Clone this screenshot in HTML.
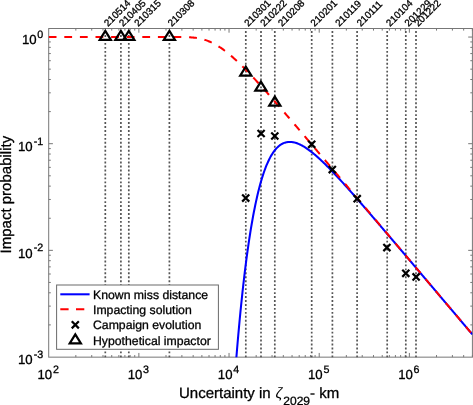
<!DOCTYPE html>
<html><head><meta charset="utf-8"><title>Impact probability</title>
<style>html,body{margin:0;padding:0;background:#fff}svg{display:block;will-change:transform}</style></head>
<body>
<svg width="473" height="405" viewBox="0 0 473 405" font-family="'Liberation Sans', Arial, Helvetica, sans-serif" fill="#000" text-rendering="geometricPrecision">
<style>text{stroke:#000;stroke-width:0.3px;stroke-linejoin:round}</style>
<rect width="473" height="405" fill="#fff"/>
<defs><clipPath id="c"><rect x="48.7" y="28.5" width="423.7" height="328.65"/></clipPath></defs>
<g stroke="#777" stroke-width="1" fill="none">
<rect x="48.7" y="28.5" width="423.7" height="328.65"/>
<path d="M75.84,357.15v-2.1M75.84,28.5v2.1M91.72,357.15v-2.1M91.72,28.5v2.1M102.99,357.15v-2.1M102.99,28.5v2.1M111.73,357.15v-2.1M111.73,28.5v2.1M118.86,357.15v-2.1M118.86,28.5v2.1M124.90,357.15v-2.1M124.90,28.5v2.1M130.13,357.15v-2.1M130.13,28.5v2.1M134.74,357.15v-2.1M134.74,28.5v2.1M138.87,357.15v-4.2M138.87,28.5v4.2M166.01,357.15v-2.1M166.01,28.5v2.1M181.89,357.15v-2.1M181.89,28.5v2.1M193.16,357.15v-2.1M193.16,28.5v2.1M201.89,357.15v-2.1M201.89,28.5v2.1M209.03,357.15v-2.1M209.03,28.5v2.1M215.07,357.15v-2.1M215.07,28.5v2.1M220.30,357.15v-2.1M220.30,28.5v2.1M224.91,357.15v-2.1M224.91,28.5v2.1M229.04,357.15v-4.2M229.04,28.5v4.2M256.18,357.15v-2.1M256.18,28.5v2.1M272.06,357.15v-2.1M272.06,28.5v2.1M283.32,357.15v-2.1M283.32,28.5v2.1M292.06,357.15v-2.1M292.06,28.5v2.1M299.20,357.15v-2.1M299.20,28.5v2.1M305.24,357.15v-2.1M305.24,28.5v2.1M310.47,357.15v-2.1M310.47,28.5v2.1M315.08,357.15v-2.1M315.08,28.5v2.1M319.21,357.15v-4.2M319.21,28.5v4.2M346.35,357.15v-2.1M346.35,28.5v2.1M362.23,357.15v-2.1M362.23,28.5v2.1M373.49,357.15v-2.1M373.49,28.5v2.1M382.23,357.15v-2.1M382.23,28.5v2.1M389.37,357.15v-2.1M389.37,28.5v2.1M395.41,357.15v-2.1M395.41,28.5v2.1M400.64,357.15v-2.1M400.64,28.5v2.1M405.25,357.15v-2.1M405.25,28.5v2.1M409.37,357.15v-4.2M409.37,28.5v4.2M436.52,357.15v-2.1M436.52,28.5v2.1M452.40,357.15v-2.1M452.40,28.5v2.1M463.66,357.15v-2.1M463.66,28.5v2.1M472.40,357.15v-2.1M472.40,28.5v2.1M48.7,324.90h2.1M472.4,324.90h-2.1M48.7,306.12h2.1M472.4,306.12h-2.1M48.7,292.79h2.1M472.4,292.79h-2.1M48.7,282.45h2.1M472.4,282.45h-2.1M48.7,274.01h2.1M472.4,274.01h-2.1M48.7,266.87h2.1M472.4,266.87h-2.1M48.7,260.69h2.1M472.4,260.69h-2.1M48.7,255.23h2.1M472.4,255.23h-2.1M48.7,250.35h4.2M472.4,250.35h-4.2M48.7,218.25h2.1M472.4,218.25h-2.1M48.7,199.47h2.1M472.4,199.47h-2.1M48.7,186.14h2.1M472.4,186.14h-2.1M48.7,175.80h2.1M472.4,175.80h-2.1M48.7,167.36h2.1M472.4,167.36h-2.1M48.7,160.22h2.1M472.4,160.22h-2.1M48.7,154.04h2.1M472.4,154.04h-2.1M48.7,148.58h2.1M472.4,148.58h-2.1M48.7,143.70h4.2M472.4,143.70h-4.2M48.7,111.60h2.1M472.4,111.60h-2.1M48.7,92.82h2.1M472.4,92.82h-2.1M48.7,79.49h2.1M472.4,79.49h-2.1M48.7,69.15h2.1M472.4,69.15h-2.1M48.7,60.71h2.1M472.4,60.71h-2.1M48.7,53.57h2.1M472.4,53.57h-2.1M48.7,47.39h2.1M472.4,47.39h-2.1M48.7,41.93h2.1M472.4,41.93h-2.1M48.7,37.05h4.2M472.4,37.05h-4.2"/>
</g>
<g stroke="#555" stroke-width="1.7" stroke-dasharray="1.9 2.055" stroke-dashoffset="1.355" fill="none">
<line x1="105.3" y1="28.5" x2="105.3" y2="357.15"/>
<line x1="120.9" y1="28.5" x2="120.9" y2="357.15"/>
<line x1="128.8" y1="28.5" x2="128.8" y2="357.15"/>
<line x1="169.4" y1="28.5" x2="169.4" y2="357.15"/>
<line x1="245.8" y1="28.5" x2="245.8" y2="357.15"/>
<line x1="261.0" y1="28.5" x2="261.0" y2="357.15"/>
<line x1="274.8" y1="28.5" x2="274.8" y2="357.15"/>
<line x1="311.7" y1="28.5" x2="311.7" y2="357.15"/>
<line x1="332.4" y1="28.5" x2="332.4" y2="357.15"/>
<line x1="357.1" y1="28.5" x2="357.1" y2="357.15"/>
<line x1="387.2" y1="28.5" x2="387.2" y2="357.15"/>
<line x1="405.8" y1="28.5" x2="405.8" y2="357.15"/>
<line x1="416.0" y1="28.5" x2="416.0" y2="357.15"/>
</g>
<g clip-path="url(#c)" fill="none" stroke-width="2.05" stroke-linejoin="round">
<path d="M234.02,388.04 L234.73,378.46 L235.44,369.20 L236.15,360.25 L236.85,351.59 L237.56,343.22 L238.27,335.13 L238.98,327.31 L239.68,319.74 L240.39,312.43 L241.10,305.37 L241.81,298.53 L242.51,291.93 L243.22,285.55 L243.93,279.38 L244.63,273.42 L245.34,267.66 L246.05,262.10 L246.76,256.72 L247.46,251.54 L248.17,246.53 L248.88,241.69 L249.59,237.02 L250.29,232.52 L251.00,228.17 L251.71,223.98 L252.42,219.95 L253.12,216.05 L253.83,212.31 L254.54,208.70 L255.24,205.22 L255.95,201.88 L256.66,198.66 L257.37,195.57 L258.07,192.60 L258.78,189.74 L259.49,187.00 L260.20,184.37 L260.90,181.85 L261.61,179.44 L262.32,177.13 L263.03,174.91 L263.73,172.79 L264.44,170.77 L265.15,168.84 L265.86,166.99 L266.56,165.24 L267.27,163.56 L267.98,161.97 L268.68,160.45 L269.39,159.01 L270.10,157.65 L270.81,156.36 L271.51,155.13 L272.22,153.98 L272.93,152.89 L273.64,151.86 L274.34,150.90 L275.05,149.99 L275.76,149.14 L276.47,148.35 L277.17,147.62 L277.88,146.93 L278.59,146.30 L279.29,145.72 L280.00,145.18 L280.71,144.69 L281.42,144.25 L282.12,143.84 L282.83,143.48 L283.54,143.17 L284.25,142.89 L284.95,142.64 L285.66,142.44 L286.37,142.27 L287.08,142.14 L287.78,142.03 L288.49,141.97 L289.20,141.93 L289.90,141.92 L290.61,141.94 L291.32,141.99 L292.03,142.06 L292.73,142.17 L293.44,142.29 L294.15,142.45 L294.86,142.62 L295.56,142.82 L296.27,143.04 L296.98,143.29 L297.69,143.55 L298.39,143.83 L299.10,144.13 L299.81,144.45 L300.52,144.79 L301.22,145.15 L301.93,145.52 L302.64,145.91 L303.34,146.32 L304.05,146.74 L304.76,147.17 L305.47,147.62 L306.17,148.08 L306.88,148.56 L307.59,149.04 L308.30,149.54 L309.00,150.06 L309.71,150.58 L310.42,151.11 L311.13,151.66 L311.83,152.21 L312.54,152.78 L313.25,153.35 L313.95,153.94 L314.66,154.53 L315.37,155.13 L316.08,155.74 L316.78,156.36 L317.49,156.98 L318.20,157.61 L318.91,158.25 L319.61,158.90 L320.32,159.55 L321.03,160.21 L321.74,160.88 L322.44,161.55 L323.15,162.23 L323.86,162.91 L324.56,163.60 L325.27,164.30 L325.98,165.00 L326.69,165.70 L327.39,166.41 L328.10,167.12 L328.81,167.84 L329.52,168.56 L330.22,169.29 L330.93,170.02 L331.64,170.75 L332.35,171.49 L333.05,172.23 L333.76,172.97 L334.47,173.72 L335.17,174.47 L335.88,175.23 L336.59,175.98 L337.30,176.74 L338.00,177.50 L338.71,178.27 L339.42,179.04 L340.13,179.81 L340.83,180.58 L341.54,181.35 L342.25,182.13 L342.96,182.91 L343.66,183.69 L344.37,184.47 L345.08,185.26 L345.79,186.04 L346.49,186.83 L347.20,187.62 L347.91,188.41 L348.61,189.21 L349.32,190.00 L350.03,190.80 L350.74,191.59 L351.44,192.39 L352.15,193.19 L352.86,194.00 L353.57,194.80 L354.27,195.60 L354.98,196.41 L355.69,197.21 L356.40,198.02 L357.10,198.83 L357.81,199.64 L358.52,200.45 L359.22,201.26 L359.93,202.07 L360.64,202.89 L361.35,203.70 L362.05,204.52 L362.76,205.33 L363.47,206.15 L364.18,206.96 L364.88,207.78 L365.59,208.60 L366.30,209.42 L367.01,210.24 L367.71,211.06 L368.42,211.88 L369.13,212.70 L369.83,213.52 L370.54,214.35 L371.25,215.17 L371.96,215.99 L372.66,216.82 L373.37,217.64 L374.08,218.47 L374.79,219.29 L375.49,220.12 L376.20,220.94 L376.91,221.77 L377.62,222.60 L378.32,223.42 L379.03,224.25 L379.74,225.08 L380.45,225.91 L381.15,226.73 L381.86,227.56 L382.57,228.39 L383.27,229.22 L383.98,230.05 L384.69,230.88 L385.40,231.71 L386.10,232.54 L386.81,233.37 L387.52,234.20 L388.23,235.03 L388.93,235.86 L389.64,236.69 L390.35,237.53 L391.06,238.36 L391.76,239.19 L392.47,240.02 L393.18,240.85 L393.88,241.69 L394.59,242.52 L395.30,243.35 L396.01,244.18 L396.71,245.02 L397.42,245.85 L398.13,246.68 L398.84,247.52 L399.54,248.35 L400.25,249.18 L400.96,250.02 L401.67,250.85 L402.37,251.68 L403.08,252.52 L403.79,253.35 L404.49,254.19 L405.20,255.02 L405.91,255.86 L406.62,256.69 L407.32,257.52 L408.03,258.36 L408.74,259.19 L409.45,260.03 L410.15,260.86 L410.86,261.70 L411.57,262.53 L412.28,263.37 L412.98,264.20 L413.69,265.04 L414.40,265.87 L415.11,266.71 L415.81,267.54 L416.52,268.38 L417.23,269.21 L417.93,270.05 L418.64,270.88 L419.35,271.72 L420.06,272.56 L420.76,273.39 L421.47,274.23 L422.18,275.06 L422.89,275.90 L423.59,276.73 L424.30,277.57 L425.01,278.41 L425.72,279.24 L426.42,280.08 L427.13,280.91 L427.84,281.75 L428.54,282.58 L429.25,283.42 L429.96,284.26 L430.67,285.09 L431.37,285.93 L432.08,286.76 L432.79,287.60 L433.50,288.44 L434.20,289.27 L434.91,290.11 L435.62,290.94 L436.33,291.78 L437.03,292.62 L437.74,293.45 L438.45,294.29 L439.15,295.13 L439.86,295.96 L440.57,296.80 L441.28,297.63 L441.98,298.47 L442.69,299.31 L443.40,300.14 L444.11,300.98 L444.81,301.82 L445.52,302.65 L446.23,303.49 L446.94,304.32 L447.64,305.16 L448.35,306.00 L449.06,306.83 L449.76,307.67 L450.47,308.51 L451.18,309.34 L451.89,310.18 L452.59,311.02 L453.30,311.85 L454.01,312.69 L454.72,313.53 L455.42,314.36 L456.13,315.20 L456.84,316.03 L457.55,316.87 L458.25,317.71 L458.96,318.54 L459.67,319.38 L460.38,320.22 L461.08,321.05 L461.79,321.89 L462.50,322.73 L463.20,323.56 L463.91,324.40 L464.62,325.24 L465.33,326.07 L466.03,326.91 L466.74,327.75 L467.45,328.58 L468.16,329.42 L468.86,330.26 L469.57,331.09 L470.28,331.93 L470.99,332.77 L471.69,333.60 L472.40,334.44" stroke="#0000ff"/>
<path d="M48.70,37.05 L49.41,37.05 L50.11,37.05 L50.82,37.05 L51.53,37.05 L52.24,37.05 L52.94,37.05 L53.65,37.05 L54.36,37.05 L55.07,37.05 L55.77,37.05 L56.48,37.05 L57.19,37.05 L57.90,37.05 L58.60,37.05 L59.31,37.05 L60.02,37.05 L60.72,37.05 L61.43,37.05 L62.14,37.05 L62.85,37.05 L63.55,37.05 L64.26,37.05 L64.97,37.05 L65.68,37.05 L66.38,37.05 L67.09,37.05 L67.80,37.05 L68.51,37.05 L69.21,37.05 L69.92,37.05 L70.63,37.05 L71.34,37.05 L72.04,37.05 L72.75,37.05 L73.46,37.05 L74.16,37.05 L74.87,37.05 L75.58,37.05 L76.29,37.05 L76.99,37.05 L77.70,37.05 L78.41,37.05 L79.12,37.05 L79.82,37.05 L80.53,37.05 L81.24,37.05 L81.95,37.05 L82.65,37.05 L83.36,37.05 L84.07,37.05 L84.77,37.05 L85.48,37.05 L86.19,37.05 L86.90,37.05 L87.60,37.05 L88.31,37.05 L89.02,37.05 L89.73,37.05 L90.43,37.05 L91.14,37.05 L91.85,37.05 L92.56,37.05 L93.26,37.05 L93.97,37.05 L94.68,37.05 L95.38,37.05 L96.09,37.05 L96.80,37.05 L97.51,37.05 L98.21,37.05 L98.92,37.05 L99.63,37.05 L100.34,37.05 L101.04,37.05 L101.75,37.05 L102.46,37.05 L103.17,37.05 L103.87,37.05 L104.58,37.05 L105.29,37.05 L105.99,37.05 L106.70,37.05 L107.41,37.05 L108.12,37.05 L108.82,37.05 L109.53,37.05 L110.24,37.05 L110.95,37.05 L111.65,37.05 L112.36,37.05 L113.07,37.05 L113.78,37.05 L114.48,37.05 L115.19,37.05 L115.90,37.05 L116.61,37.05 L117.31,37.05 L118.02,37.05 L118.73,37.05 L119.43,37.05 L120.14,37.05 L120.85,37.05 L121.56,37.05 L122.26,37.05 L122.97,37.05 L123.68,37.05 L124.39,37.05 L125.09,37.05 L125.80,37.05 L126.51,37.05 L127.22,37.05 L127.92,37.05 L128.63,37.05 L129.34,37.05 L130.04,37.05 L130.75,37.05 L131.46,37.05 L132.17,37.05 L132.87,37.05 L133.58,37.05 L134.29,37.05 L135.00,37.05 L135.70,37.05 L136.41,37.05 L137.12,37.05 L137.83,37.05 L138.53,37.05 L139.24,37.05 L139.95,37.05 L140.65,37.05 L141.36,37.05 L142.07,37.05 L142.78,37.05 L143.48,37.05 L144.19,37.05 L144.90,37.05 L145.61,37.05 L146.31,37.05 L147.02,37.05 L147.73,37.05 L148.44,37.05 L149.14,37.05 L149.85,37.05 L150.56,37.05 L151.27,37.05 L151.97,37.05 L152.68,37.05 L153.39,37.05 L154.09,37.05 L154.80,37.05 L155.51,37.05 L156.22,37.05 L156.92,37.05 L157.63,37.05 L158.34,37.05 L159.05,37.05 L159.75,37.05 L160.46,37.05 L161.17,37.05 L161.88,37.05 L162.58,37.05 L163.29,37.05 L164.00,37.05 L164.70,37.05 L165.41,37.05 L166.12,37.05 L166.83,37.05 L167.53,37.05 L168.24,37.05 L168.95,37.05 L169.66,37.05 L170.36,37.05 L171.07,37.05 L171.78,37.05 L172.49,37.05 L173.19,37.05 L173.90,37.05 L174.61,37.05 L175.31,37.05 L176.02,37.05 L176.73,37.05 L177.44,37.06 L178.14,37.06 L178.85,37.06 L179.56,37.06 L180.27,37.07 L180.97,37.07 L181.68,37.08 L182.39,37.09 L183.10,37.10 L183.80,37.11 L184.51,37.12 L185.22,37.13 L185.93,37.15 L186.63,37.17 L187.34,37.19 L188.05,37.22 L188.75,37.25 L189.46,37.29 L190.17,37.33 L190.88,37.37 L191.58,37.42 L192.29,37.48 L193.00,37.54 L193.71,37.61 L194.41,37.68 L195.12,37.76 L195.83,37.85 L196.54,37.95 L197.24,38.06 L197.95,38.18 L198.66,38.30 L199.36,38.44 L200.07,38.58 L200.78,38.74 L201.49,38.91 L202.19,39.08 L202.90,39.27 L203.61,39.47 L204.32,39.68 L205.02,39.90 L205.73,40.13 L206.44,40.38 L207.15,40.63 L207.85,40.90 L208.56,41.18 L209.27,41.47 L209.97,41.78 L210.68,42.09 L211.39,42.42 L212.10,42.76 L212.80,43.11 L213.51,43.47 L214.22,43.84 L214.93,44.23 L215.63,44.63 L216.34,45.04 L217.05,45.45 L217.76,45.88 L218.46,46.33 L219.17,46.78 L219.88,47.24 L220.58,47.71 L221.29,48.19 L222.00,48.69 L222.71,49.19 L223.41,49.70 L224.12,50.22 L224.83,50.75 L225.54,51.29 L226.24,51.84 L226.95,52.39 L227.66,52.96 L228.37,53.53 L229.07,54.11 L229.78,54.70 L230.49,55.30 L231.20,55.90 L231.90,56.51 L232.61,57.13 L233.32,57.76 L234.02,58.39 L234.73,59.03 L235.44,59.67 L236.15,60.32 L236.85,60.98 L237.56,61.64 L238.27,62.31 L238.98,62.98 L239.68,63.66 L240.39,64.35 L241.10,65.03 L241.81,65.73 L242.51,66.43 L243.22,67.13 L243.93,67.84 L244.63,68.55 L245.34,69.26 L246.05,69.98 L246.76,70.71 L247.46,71.44 L248.17,72.17 L248.88,72.90 L249.59,73.64 L250.29,74.38 L251.00,75.13 L251.71,75.87 L252.42,76.63 L253.12,77.38 L253.83,78.14 L254.54,78.89 L255.24,79.66 L255.95,80.42 L256.66,81.19 L257.37,81.96 L258.07,82.73 L258.78,83.50 L259.49,84.28 L260.20,85.06 L260.90,85.84 L261.61,86.62 L262.32,87.40 L263.03,88.19 L263.73,88.98 L264.44,89.77 L265.15,90.56 L265.86,91.35 L266.56,92.14 L267.27,92.94 L267.98,93.74 L268.68,94.54 L269.39,95.34 L270.10,96.14 L270.81,96.94 L271.51,97.74 L272.22,98.55 L272.93,99.35 L273.64,100.16 L274.34,100.97 L275.05,101.78 L275.76,102.59 L276.47,103.40 L277.17,104.21 L277.88,105.02 L278.59,105.83 L279.29,106.65 L280.00,107.46 L280.71,108.28 L281.42,109.09 L282.12,109.91 L282.83,110.73 L283.54,111.55 L284.25,112.37 L284.95,113.19 L285.66,114.01 L286.37,114.83 L287.08,115.65 L287.78,116.47 L288.49,117.29 L289.20,118.12 L289.90,118.94 L290.61,119.77 L291.32,120.59 L292.03,121.41 L292.73,122.24 L293.44,123.07 L294.15,123.89 L294.86,124.72 L295.56,125.54 L296.27,126.37 L296.98,127.20 L297.69,128.03 L298.39,128.86 L299.10,129.68 L299.81,130.51 L300.52,131.34 L301.22,132.17 L301.93,133.00 L302.64,133.83 L303.34,134.66 L304.05,135.49 L304.76,136.32 L305.47,137.15 L306.17,137.98 L306.88,138.81 L307.59,139.64 L308.30,140.48 L309.00,141.31 L309.71,142.14 L310.42,142.97 L311.13,143.80 L311.83,144.64 L312.54,145.47 L313.25,146.30 L313.95,147.13 L314.66,147.97 L315.37,148.80 L316.08,149.63 L316.78,150.47 L317.49,151.30 L318.20,152.13 L318.91,152.97 L319.61,153.80 L320.32,154.64 L321.03,155.47 L321.74,156.30 L322.44,157.14 L323.15,157.97 L323.86,158.81 L324.56,159.64 L325.27,160.47 L325.98,161.31 L326.69,162.14 L327.39,162.98 L328.10,163.81 L328.81,164.65 L329.52,165.48 L330.22,166.32 L330.93,167.15 L331.64,167.99 L332.35,168.82 L333.05,169.66 L333.76,170.49 L334.47,171.33 L335.17,172.16 L335.88,173.00 L336.59,173.83 L337.30,174.67 L338.00,175.51 L338.71,176.34 L339.42,177.18 L340.13,178.01 L340.83,178.85 L341.54,179.68 L342.25,180.52 L342.96,181.36 L343.66,182.19 L344.37,183.03 L345.08,183.86 L345.79,184.70 L346.49,185.53 L347.20,186.37 L347.91,187.21 L348.61,188.04 L349.32,188.88 L350.03,189.71 L350.74,190.55 L351.44,191.39 L352.15,192.22 L352.86,193.06 L353.57,193.90 L354.27,194.73 L354.98,195.57 L355.69,196.40 L356.40,197.24 L357.10,198.08 L357.81,198.91 L358.52,199.75 L359.22,200.58 L359.93,201.42 L360.64,202.26 L361.35,203.09 L362.05,203.93 L362.76,204.77 L363.47,205.60 L364.18,206.44 L364.88,207.28 L365.59,208.11 L366.30,208.95 L367.01,209.78 L367.71,210.62 L368.42,211.46 L369.13,212.29 L369.83,213.13 L370.54,213.97 L371.25,214.80 L371.96,215.64 L372.66,216.48 L373.37,217.31 L374.08,218.15 L374.79,218.98 L375.49,219.82 L376.20,220.66 L376.91,221.49 L377.62,222.33 L378.32,223.17 L379.03,224.00 L379.74,224.84 L380.45,225.68 L381.15,226.51 L381.86,227.35 L382.57,228.19 L383.27,229.02 L383.98,229.86 L384.69,230.70 L385.40,231.53 L386.10,232.37 L386.81,233.21 L387.52,234.04 L388.23,234.88 L388.93,235.72 L389.64,236.55 L390.35,237.39 L391.06,238.22 L391.76,239.06 L392.47,239.90 L393.18,240.73 L393.88,241.57 L394.59,242.41 L395.30,243.24 L396.01,244.08 L396.71,244.92 L397.42,245.75 L398.13,246.59 L398.84,247.43 L399.54,248.26 L400.25,249.10 L400.96,249.94 L401.67,250.77 L402.37,251.61 L403.08,252.45 L403.79,253.28 L404.49,254.12 L405.20,254.96 L405.91,255.79 L406.62,256.63 L407.32,257.47 L408.03,258.30 L408.74,259.14 L409.45,259.98 L410.15,260.81 L410.86,261.65 L411.57,262.49 L412.28,263.32 L412.98,264.16 L413.69,265.00 L414.40,265.83 L415.11,266.67 L415.81,267.51 L416.52,268.34 L417.23,269.18 L417.93,270.02 L418.64,270.85 L419.35,271.69 L420.06,272.53 L420.76,273.36 L421.47,274.20 L422.18,275.04 L422.89,275.87 L423.59,276.71 L424.30,277.55 L425.01,278.38 L425.72,279.22 L426.42,280.06 L427.13,280.89 L427.84,281.73 L428.54,282.56 L429.25,283.40 L429.96,284.24 L430.67,285.07 L431.37,285.91 L432.08,286.75 L432.79,287.58 L433.50,288.42 L434.20,289.26 L434.91,290.09 L435.62,290.93 L436.33,291.77 L437.03,292.60 L437.74,293.44 L438.45,294.28 L439.15,295.11 L439.86,295.95 L440.57,296.79 L441.28,297.62 L441.98,298.46 L442.69,299.30 L443.40,300.13 L444.11,300.97 L444.81,301.81 L445.52,302.64 L446.23,303.48 L446.94,304.32 L447.64,305.15 L448.35,305.99 L449.06,306.83 L449.76,307.66 L450.47,308.50 L451.18,309.34 L451.89,310.17 L452.59,311.01 L453.30,311.85 L454.01,312.68 L454.72,313.52 L455.42,314.36 L456.13,315.19 L456.84,316.03 L457.55,316.87 L458.25,317.70 L458.96,318.54 L459.67,319.38 L460.38,320.21 L461.08,321.05 L461.79,321.89 L462.50,322.72 L463.20,323.56 L463.91,324.40 L464.62,325.23 L465.33,326.07 L466.03,326.91 L466.74,327.74 L467.45,328.58 L468.16,329.42 L468.86,330.25 L469.57,331.09 L470.28,331.93 L470.99,332.76 L471.69,333.60 L472.40,334.44" stroke="#ff0000" stroke-dasharray="7.8 7.8"/>
</g>
<path d="M242.15,194.55L249.25,201.65M242.15,201.65L249.25,194.55" stroke="#000" stroke-width="2.2" fill="none"/>
<path d="M257.55,129.95L264.65,137.05M257.55,137.05L264.65,129.95" stroke="#000" stroke-width="2.2" fill="none"/>
<path d="M271.25,132.45L278.35,139.55M271.25,139.55L278.35,132.45" stroke="#000" stroke-width="2.2" fill="none"/>
<path d="M308.15,140.75L315.25,147.85M308.15,147.85L315.25,140.75" stroke="#000" stroke-width="2.2" fill="none"/>
<path d="M328.75,166.05L335.85,173.15M328.75,173.15L335.85,166.05" stroke="#000" stroke-width="2.2" fill="none"/>
<path d="M353.65,195.15L360.75,202.25M353.65,202.25L360.75,195.15" stroke="#000" stroke-width="2.2" fill="none"/>
<path d="M383.35,244.05L390.45,251.15M383.35,251.15L390.45,244.05" stroke="#000" stroke-width="2.2" fill="none"/>
<path d="M402.25,269.75L409.35,276.85M402.25,276.85L409.35,269.75" stroke="#000" stroke-width="2.2" fill="none"/>
<path d="M412.55,273.35L419.65,280.45M412.55,280.45L419.65,273.35" stroke="#000" stroke-width="2.2" fill="none"/>
<path d="M105.30,30.90L110.90,39.90L99.70,39.90Z" stroke="#000" stroke-width="2.2" fill="none" stroke-linejoin="miter"/>
<path d="M120.90,30.90L126.50,39.90L115.30,39.90Z" stroke="#000" stroke-width="2.2" fill="none" stroke-linejoin="miter"/>
<path d="M128.80,30.90L134.40,39.90L123.20,39.90Z" stroke="#000" stroke-width="2.2" fill="none" stroke-linejoin="miter"/>
<path d="M169.40,30.90L175.00,39.90L163.80,39.90Z" stroke="#000" stroke-width="2.2" fill="none" stroke-linejoin="miter"/>
<path d="M245.80,66.70L251.40,75.70L240.20,75.70Z" stroke="#000" stroke-width="2.2" fill="none" stroke-linejoin="miter"/>
<path d="M260.90,81.70L266.50,90.70L255.30,90.70Z" stroke="#000" stroke-width="2.2" fill="none" stroke-linejoin="miter"/>
<path d="M274.80,96.60L280.40,105.60L269.20,105.60Z" stroke="#000" stroke-width="2.2" fill="none" stroke-linejoin="miter"/>
<g font-size="9.9" fill="#000">
<text transform="translate(107.9,27.1) rotate(-45)">210514</text>
<text transform="translate(123.1,27.1) rotate(-45)">210405</text>
<text transform="translate(138.3,27.1) rotate(-45)">210315</text>
<text transform="translate(171.8,27.1) rotate(-45)">210308</text>
<text transform="translate(248.2,27.1) rotate(-45)">210301</text>
<text transform="translate(264.2,27.1) rotate(-45)">210222</text>
<text transform="translate(281.9,27.1) rotate(-45)">210208</text>
<text transform="translate(314.5,27.1) rotate(-45)">210201</text>
<text transform="translate(339.2,27.1) rotate(-45)">210119</text>
<text transform="translate(360.7,27.1) rotate(-45)">210111</text>
<text transform="translate(390.0,27.1) rotate(-45)">210104</text>
<text transform="translate(408.6,27.1) rotate(-45)">201229</text>
<text transform="translate(418.2,27.1) rotate(-45)">201222</text>
</g>
<text x="48.2" y="379.3" text-anchor="middle" font-size="13.2">10<tspan font-size="10.7" dy="-6.4" dx="0.7">2</tspan></text>
<text x="138.36869646093226" y="379.3" text-anchor="middle" font-size="13.2">10<tspan font-size="10.7" dy="-6.4" dx="0.7">3</tspan></text>
<text x="228.53739292186452" y="379.3" text-anchor="middle" font-size="13.2">10<tspan font-size="10.7" dy="-6.4" dx="0.7">4</tspan></text>
<text x="318.70608938279673" y="379.3" text-anchor="middle" font-size="13.2">10<tspan font-size="10.7" dy="-6.4" dx="0.7">5</tspan></text>
<text x="408.874785843729" y="379.3" text-anchor="middle" font-size="13.2">10<tspan font-size="10.7" dy="-6.4" dx="0.7">6</tspan></text>
<text x="43.2" y="44.449999999999996" text-anchor="end" font-size="13.2">10<tspan font-size="10.7" dy="-6.4" dx="0.7">0</tspan></text>
<text x="43.2" y="151.1" text-anchor="end" font-size="13.2">10<tspan font-size="10.7" dy="-6.4" dx="1.0">-1</tspan></text>
<text x="43.2" y="257.74999999999994" text-anchor="end" font-size="13.2">10<tspan font-size="10.7" dy="-6.4" dx="1.0">-2</tspan></text>
<text x="43.2" y="364.4" text-anchor="end" font-size="13.2">10<tspan font-size="10.7" dy="-6.4" dx="1.0">-3</tspan></text>
<text x="179" y="398.2" font-size="15">Uncertainty in <tspan font-style="italic" font-size="15" stroke-width="0" dx="0.6">ζ</tspan><tspan font-size="12" dy="6.6" dx="0.9">2029</tspan><tspan dy="-6.6">- km</tspan></text>
<text transform="translate(11.1,253.4) rotate(-90)" font-size="15">Impact probability</text>
<rect x="56.6" y="285.0" width="161.8" height="64.3" fill="#fff" stroke="#6a6a6a" stroke-width="1"/>
<path d="M60.3,294.3H89.6" stroke="#0000ff" stroke-width="2.05" fill="none"/>
<path d="M60.3,309.3H89.5" stroke="#ff0000" stroke-width="2.05" stroke-dasharray="8.3 7.4" fill="none"/>
<path d="M71.75,321.25L78.85,328.35M71.75,328.35L78.85,321.25" stroke="#000" stroke-width="2.2" fill="none"/>
<path d="M75.30,334.30L80.90,343.30L69.70,343.30Z" stroke="#000" stroke-width="2.2" fill="none" stroke-linejoin="miter"/>
<g font-size="12.25" fill="#000">
<text x="93.0" y="298.80">Known miss distance</text>
<text x="93.0" y="314.05">Impacting solution</text>
<text x="93.0" y="329.30">Campaign evolution</text>
<text x="93.0" y="344.55">Hypothetical impactor</text>
</g>
</svg>
</body></html>
